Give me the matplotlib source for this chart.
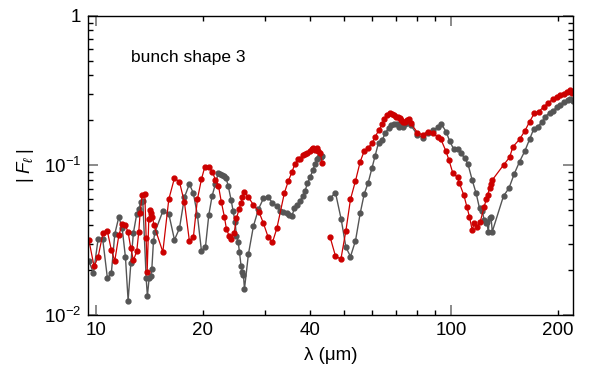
import numpy as np
import matplotlib
matplotlib.use('Agg')
import matplotlib.pyplot as plt
from matplotlib.ticker import FixedLocator, FuncFormatter, NullFormatter

plt.rcParams['font.family'] = ['Liberation Sans', 'DejaVu Sans']
plt.rcParams['mathtext.fontset'] = 'custom'
plt.rcParams['mathtext.rm'] = 'Liberation Sans'
plt.rcParams['mathtext.it'] = 'Liberation Sans:italic'
plt.rcParams['mathtext.cal'] = 'DejaVu Sans'

nan = np.nan

# wavelength (um) and |F_l| for the two curves, NaN marks the gap
gray_lam = [9.54, 9.83, 10.13, 10.44, 10.76, 11.04, 11.29, 11.59, 11.84, 12.10, 12.31, 12.53,
            12.74, 13.02, 13.19, 13.37, 13.54, 13.84, 13.95, 14.11, 14.26, 14.36, 14.51, 14.64,
            15.42, 16.03, 16.63, 17.18, 17.74, 18.32, 18.80, 19.30, 19.81, 20.33, 20.78, 21.23,
            21.69, 22.08, 22.37, 22.66, 22.96, 23.26, 23.56, 24.02, 24.33, 24.65, 24.86, 25.14,
            25.35, 25.63, 25.85, 26.02, 26.19, 26.88, 27.77, 28.69, 29.63, 30.49, 31.41, 32.32,
            33.02, 33.74, 34.48, 35.08, 35.62, 36.23, 36.94, 37.60, 38.26, 38.83, 39.41, 40.11,
            40.82, 41.44, 42.06, 42.62, 43.0, 43.37, nan,
            45.67, 47.28, 49.07, 50.59, 52.12, 53.83, 55.51, 56.97, 58.46, 59.89, 61.18, 62.51,
            64.02, 65.41, 66.87, 68.01, 69.21, 70.43, 71.36, 72.28, 73.24, 74.19, 75.16, 76.14,
            77.13, 80.51, 83.17, 85.91, 88.97, 91.92, 94.07, 96.98, 99.1, 101.7, 104.4, 106.7,
            109.5, 111.7, 114.8, 117.8, 120.4, 122.5, 124.1, 125.2, 126.3, 127.4, 128.5, 129.7,
            130.8, 140.7, 145.7, 150.8, 156.1, 161.7, 166.6, 171.0, 175.5, 180.6, 184.5, 189.7,
            194.0, 199.1, 203.4, 207.8, 213.2, 217.0, 220.8]
gray_F = [0.0231, 0.0190, 0.0321, 0.0321, 0.0177, 0.0190, 0.0348, 0.0452, 0.0382, 0.0243, 0.0125, 0.0222,
          0.0354, 0.0474, 0.0511, 0.0567, 0.0581, 0.0176, 0.0134, 0.0176, 0.0182, 0.0204, 0.0311, 0.0357,
          0.0494, 0.0474, 0.0318, 0.0380, 0.0612, 0.0751, 0.0651, 0.0466, 0.0269, 0.0284, 0.0466, 0.0625,
          0.0751, 0.0886, 0.0882, 0.0867, 0.0849, 0.0820, 0.0732, 0.0587, 0.0496, 0.0419, 0.0338, 0.0309,
          0.0265, 0.0211, 0.0195, 0.0185, 0.0149, 0.0256, 0.0394, 0.0511, 0.0603, 0.0615, 0.0563, 0.0535,
          0.0498, 0.0491, 0.0479, 0.0468, 0.0459, 0.0517, 0.0544, 0.0581, 0.0625, 0.0678, 0.0759, 0.0833,
          0.0932, 0.1022, 0.1098, 0.1132, 0.1143, 0.1156, nan,
          0.0603, 0.0657, 0.0436, 0.0284, 0.0246, 0.0313, 0.0479, 0.0644, 0.0766, 0.0956, 0.1156, 0.1418,
          0.1478, 0.1654, 0.1786, 0.1853, 0.1891, 0.1891, 0.1814, 0.1882, 0.1797, 0.1891, 0.1950, 0.1911,
          0.1853, 0.1596, 0.1531, 0.1639, 0.1724, 0.1797, 0.1882, 0.1679, 0.1462, 0.1293, 0.1287, 0.1204,
          0.1115, 0.1022, 0.0799, 0.0651, 0.0517, 0.0498, 0.0432, 0.0410, 0.0421, 0.0361, 0.0443, 0.0454,
          0.0361, 0.0625, 0.0703, 0.0876, 0.1059, 0.1253, 0.1494, 0.1742, 0.1814, 0.1950, 0.212, 0.225,
          0.232, 0.245, 0.255, 0.265, 0.272, 0.276, 0.268]

red_lam = [9.54, 9.87, 10.13, 10.46, 10.76, 11.04, 11.29, 11.59, 11.84, 12.10, 12.31, 12.53,
           12.74, 13.02, 13.19, 13.31, 13.48, 13.72, 13.84, 13.93, 14.08, 14.22, 14.32, 14.41,
           14.55, 15.42, 16.03, 16.63, 17.18, 17.74, 18.32, 18.80, 19.30, 19.81, 20.25, 20.78,
           21.28, 21.69, 22.12, 22.55, 22.99, 23.30, 23.71, 24.02, 24.49, 24.86, 25.30, 25.63,
           25.85, 26.14, 26.88, 27.77, 28.76, 29.63, 30.55, 31.41, 32.32, 33.95, 34.84, 35.62,
           36.32, 37.11, 37.60, 38.26, 38.83, 39.41, 40.11, 40.56, 40.98, 41.52, 41.90, 42.33,
           42.80, 43.37, nan,
           45.67, 47.28, 48.97, 50.59, 52.12, 53.83, 55.51, 56.97, 58.46, 59.89, 61.18, 62.66,
           64.02, 64.86, 66.26, 67.43, 68.31, 69.21, 70.13, 71.04, 71.95, 72.56, 73.24, 74.19,
           75.16, 76.14, 77.13, 80.51, 83.17, 85.91, 88.97, 91.68, 93.71, 96.81, 98.72, 101.3,
           104.4, 105.7, 108.8, 110.9, 112.8, 114.8, 116.3, 118.4, 121.0, 124.1, 125.8, 126.9,
           128.5, 129.9, 130.8, 140.7, 146.3, 149.6, 156.1, 161.7, 166.6, 171.8, 176.6, 182.4,
           188.0, 194.0, 199.1, 203.4, 207.8, 212.3, 216.0, 219.8]
red_F = [0.0318, 0.0211, 0.0244, 0.0354, 0.0363, 0.0272, 0.0230, 0.0341, 0.0404, 0.0398, 0.0357, 0.0279,
         0.0232, 0.0267, 0.0359, 0.0483, 0.0634, 0.0641, 0.0326, 0.0195, 0.0441, 0.0504, 0.0483, 0.0454,
         0.0400, 0.0264, 0.0594, 0.0824, 0.0775, 0.0567, 0.0313, 0.0331, 0.0594, 0.0807, 0.0980, 0.0976,
         0.0908, 0.0799, 0.0732, 0.0567, 0.0454, 0.0376, 0.0338, 0.0322, 0.0352, 0.0443, 0.0511, 0.0561,
         0.0612, 0.0667, 0.0612, 0.0544, 0.0491, 0.0410, 0.0331, 0.0306, 0.0380, 0.0657, 0.0790, 0.0899,
         0.1022, 0.1098, 0.1109, 0.1168, 0.1192, 0.1210, 0.1242, 0.1293, 0.1307, 0.1267, 0.1307, 0.1248,
         0.1216, 0.1042, nan,
         0.0331, 0.0248, 0.0236, 0.0366, 0.0594, 0.0787, 0.1059, 0.1248, 0.1313, 0.1405, 0.1555, 0.1724,
         0.1882, 0.2032, 0.2171, 0.2229, 0.2211, 0.2161, 0.2115, 0.2115, 0.2073, 0.2010, 0.1950, 0.1958,
         0.2010, 0.2032, 0.1911, 0.1654, 0.1603, 0.1679, 0.1639, 0.1555, 0.1494, 0.1248, 0.1087, 0.0886,
         0.0833, 0.0759, 0.0631, 0.0530, 0.0454, 0.0370, 0.0410, 0.0390, 0.0421, 0.0530, 0.0594, 0.0634,
         0.0703, 0.0751, 0.0799, 0.1006, 0.1132, 0.1333, 0.1494, 0.1705, 0.1958, 0.2229, 0.2285, 0.245,
         0.262, 0.278, 0.288, 0.295, 0.302, 0.308, 0.318, 0.305]

x_labeled = [10, 20, 40, 100, 200]

fig = plt.figure(figsize=(5.89, 3.68), dpi=100)
ax = fig.add_axes([0.150, 0.144, 0.823, 0.813])

ax.plot(gray_lam, gray_F, '-o', color='#555555', lw=1.0, ms=3.5, mec='#555555')
ax.plot(red_lam, red_F, '-o', color='#cc0000', lw=0.9, ms=3.5, mec='#cc0000')

ax.set_xscale('log')
ax.set_yscale('log')
ax.set_xlim(9.51, 221)
ax.set_ylim(0.01, 1)

ax.xaxis.set_major_locator(FixedLocator([10, 100]))
ax.xaxis.set_minor_locator(FixedLocator([20, 30, 40, 50, 60, 70, 80, 90, 200]))
fmt = FuncFormatter(lambda v, p: '%d' % round(v) if round(v) in x_labeled else '')
ax.xaxis.set_major_formatter(fmt)
ax.xaxis.set_minor_formatter(fmt)

ax.yaxis.set_major_locator(FixedLocator([0.01, 0.1, 1]))
ax.yaxis.set_minor_locator(FixedLocator([k * 10.0 ** e for e in (-2, -1) for k in range(2, 10)]))
ax.yaxis.set_minor_formatter(NullFormatter())
ax.set_yticklabels([r'$10^{-2}$', r'$10^{-1}$', '1'])

ax.tick_params(which='both', direction='in', top=True, right=True, labelsize=13.5, pad=5)
ax.tick_params(which='major', length=7, width=1.2, color='#777777')
ax.tick_params(which='minor', length=3.5, width=1.0, color='black')
for s in ax.spines.values():
    s.set_linewidth(1.0)

ax.set_xlabel('λ (μm)', fontsize=13.5, labelpad=6)
ax.set_ylabel(r'$|\;F_{\ell}\;|$', fontsize=13.5, labelpad=6)
ax.text(0.088, 0.862, 'bunch shape 3', transform=ax.transAxes, fontsize=12.5, va='center')

fig.savefig('out.png', dpi=100)
